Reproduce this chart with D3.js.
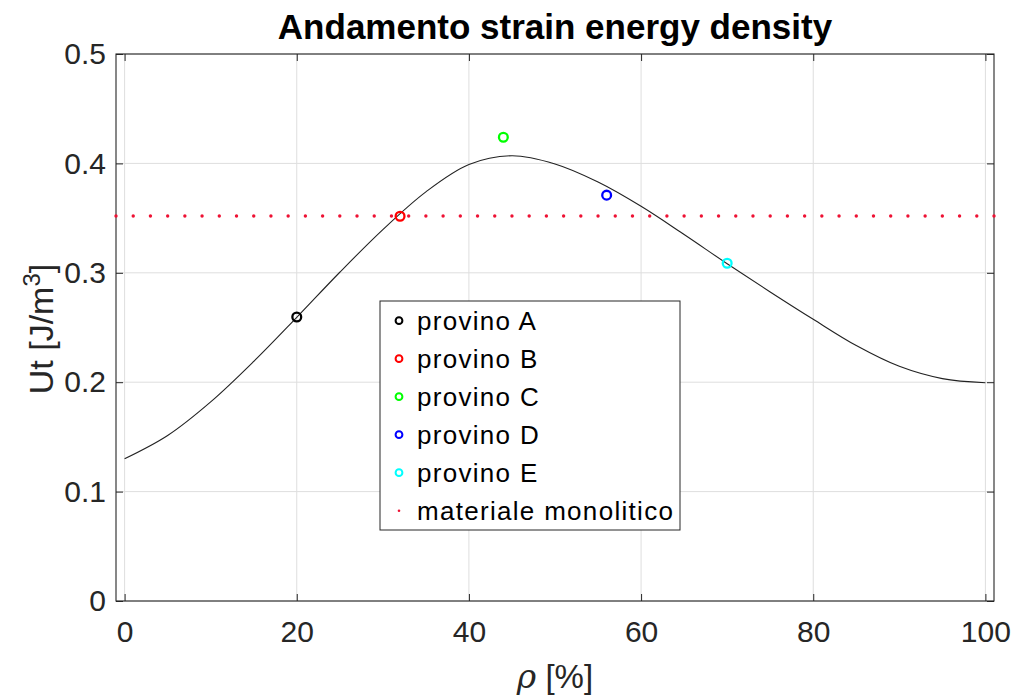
<!DOCTYPE html>
<html>
<head>
<meta charset="utf-8">
<script src="https://cdn.jsdelivr.net/npm/d3@7/dist/d3.min.js"></script>
<style>
  html, body { margin: 0; padding: 0; background: #fff; }
  svg { display: block; font-family: "Liberation Sans", Arial, Helvetica, sans-serif; }
</style>
</head>
<body>
<svg id="chart" width="1014" height="698"></svg>
<script>
// Fitted strain energy density curve vs. density rho [%]
const rhoFit = [0, 5, 10, 15, 20, 25, 30, 35, 40, 45, 50, 55, 60, 65, 70, 75, 80, 85, 90, 95, 100];
const utFit  = [0.1300, 0.1513, 0.1820, 0.2190, 0.2593, 0.3005, 0.3395, 0.3740, 0.3990, 0.4070, 0.3995,
                0.3830, 0.3608, 0.3350, 0.3083, 0.2825, 0.2575, 0.2335, 0.2145, 0.2033, 0.1995];

// Measured specimens
const specimenNames  = ["provino A", "provino B", "provino C", "provino D", "provino E"];
const specimenRho    = [20, 32, 44, 56, 70];
const specimenUt     = [0.2596, 0.3517, 0.4239, 0.371, 0.3087];
const specimenColors = ["#000000", "#ff0000", "#00ff00", "#0000ff", "#00ffff"];

// Monolithic material reference level, sampled every 2 % of rho
const monolithicUt = 0.3519;
const monolithicRho = d3.range(-1, 102, 2);

// Axis ticks
const xTicks = [0, 20, 40, 60, 80, 100];
const yTicks = [0, 0.1, 0.2, 0.3, 0.4, 0.5];
const yTickLabels = ["0", "0.1", "0.2", "0.3", "0.4", "0.5"];

const svg = d3.select("#chart");
const plot = { left: 116, right: 994, top: 54, bottom: 601 };
const axisColor = "#262626";

const x = d3.scaleLinear().domain([-1, 101]).range([plot.left, plot.right]);
const y = d3.scaleLinear().domain([0, 0.5]).range([plot.bottom, plot.top]);

// Grid
const grid = svg.append("g");
grid.selectAll("line.gx").data(xTicks).join("line")
  .attr("x1", d => x(d)).attr("x2", d => x(d))
  .attr("y1", plot.top).attr("y2", plot.bottom)
  .attr("stroke", "#dedede").attr("stroke-width", 1);
grid.selectAll("line.gy").data(yTicks).join("line")
  .attr("x1", plot.left).attr("x2", plot.right)
  .attr("y1", d => y(d)).attr("y2", d => y(d))
  .attr("stroke", "#dedede").attr("stroke-width", 1);

// Fit curve
const line = d3.line().x((d, i) => x(rhoFit[i])).y(d => y(d)).curve(d3.curveCatmullRom.alpha(0.5));
svg.append("path").datum(utFit)
  .attr("d", line).attr("fill", "none")
  .attr("stroke", "#222").attr("stroke-width", 1.1);

// Specimen markers
svg.append("g").selectAll("circle").data(specimenRho).join("circle")
  .attr("cx", d => x(d)).attr("cy", (d, i) => y(specimenUt[i])).attr("r", 4.4)
  .attr("fill", "none").attr("stroke", (d, i) => specimenColors[i]).attr("stroke-width", 2.3);

// Axes (ticks pointing inward on all four sides)
const tickLen = 7;
function styleAxis(g) {
  g.select(".domain").remove();
  g.selectAll(".tick line").attr("stroke", axisColor).attr("stroke-width", 1);
  g.selectAll(".tick text").attr("fill", axisColor)
    .style("font-size", "30px").style("font-family", "'Liberation Sans', Arial, sans-serif");
}
svg.append("g").attr("transform", `translate(0,${plot.bottom})`)
  .call(d3.axisBottom(x).tickValues(xTicks).tickSizeInner(-tickLen).tickSizeOuter(0).tickPadding(20).tickFormat(d3.format("d")))
  .call(styleAxis);
svg.append("g").attr("transform", `translate(0,${plot.top})`)
  .call(d3.axisTop(x).tickValues(xTicks).tickSizeInner(-tickLen).tickSizeOuter(0).tickFormat(""))
  .call(styleAxis);
svg.append("g").attr("transform", `translate(${plot.left},0)`)
  .call(d3.axisLeft(y).tickValues(yTicks).tickSizeInner(-tickLen).tickSizeOuter(0).tickPadding(10)
    .tickFormat((d, i) => yTickLabels[i]))
  .call(styleAxis);
svg.append("g").attr("transform", `translate(${plot.right},0)`)
  .call(d3.axisRight(y).tickValues(yTicks).tickSizeInner(-tickLen).tickSizeOuter(0).tickFormat(""))
  .call(styleAxis);

// Box
svg.append("rect")
  .attr("x", plot.left).attr("y", plot.top)
  .attr("width", plot.right - plot.left).attr("height", plot.bottom - plot.top)
  .attr("fill", "none").attr("stroke", axisColor).attr("stroke-width", 1.1);

// Monolithic reference dots
svg.append("g").attr("class", "monolithic")
  .selectAll("circle").data(monolithicRho).join("circle")
  .attr("cx", d => x(d)).attr("cy", y(monolithicUt)).attr("r", 1.7)
  .attr("fill", "#ee1133");

// Title
svg.append("text")
  .attr("x", (plot.left + plot.right) / 2).attr("y", 39)
  .attr("text-anchor", "middle")
  .style("font-size", "35px").style("font-weight", "bold").attr("fill", "#000")
  .text("Andamento strain energy density");

// X label
const xl = svg.append("text")
  .attr("x", 555).attr("y", 688)
  .attr("text-anchor", "middle").attr("fill", axisColor)
  .style("font-size", "33px");
xl.append("tspan").style("font-style", "italic").style("font-family", "'DejaVu Serif', 'Liberation Serif', serif").text("ρ");
xl.append("tspan").text(" [%]");

// Y label
const yl = svg.append("text")
  .attr("transform", `translate(53,329) rotate(-90)`)
  .attr("text-anchor", "middle").attr("fill", axisColor)
  .style("font-size", "34px");
yl.append("tspan").text("Ut [J/m");
yl.append("tspan").attr("dy", -13).style("font-size", "24px").text("3");
yl.append("tspan").attr("dy", 13).text("]");

// Legend
const legend = { x: 380, y: 301, w: 300, h: 229, rowTop: 320.7, rowStep: 38 };
const lg = svg.append("g");
lg.append("rect")
  .attr("x", legend.x).attr("y", legend.y).attr("width", legend.w).attr("height", legend.h)
  .attr("fill", "#fff").attr("stroke", "#262626").attr("stroke-width", 1);
const entries = specimenNames.map((n, i) => ({ name: n, color: specimenColors[i], kind: "circle" }))
  .concat([{ name: "materiale monolitico", color: "#ee1133", kind: "dot" }]);
entries.forEach((e, i) => {
  const cy = legend.rowTop + i * legend.rowStep;
  if (e.kind === "circle") {
    lg.append("circle").attr("cx", 399).attr("cy", cy).attr("r", 3.4)
      .attr("fill", "none").attr("stroke", e.color).attr("stroke-width", 2);
  } else {
    lg.append("circle").attr("cx", 399).attr("cy", cy).attr("r", 1.3).attr("fill", e.color);
  }
  lg.append("text").attr("x", 417).attr("y", cy + 9.5)
    .style("font-size", "26px").style("letter-spacing", "1.3px")
    .attr("fill", "#000").text(e.name);
});
</script>
</body>
</html>
